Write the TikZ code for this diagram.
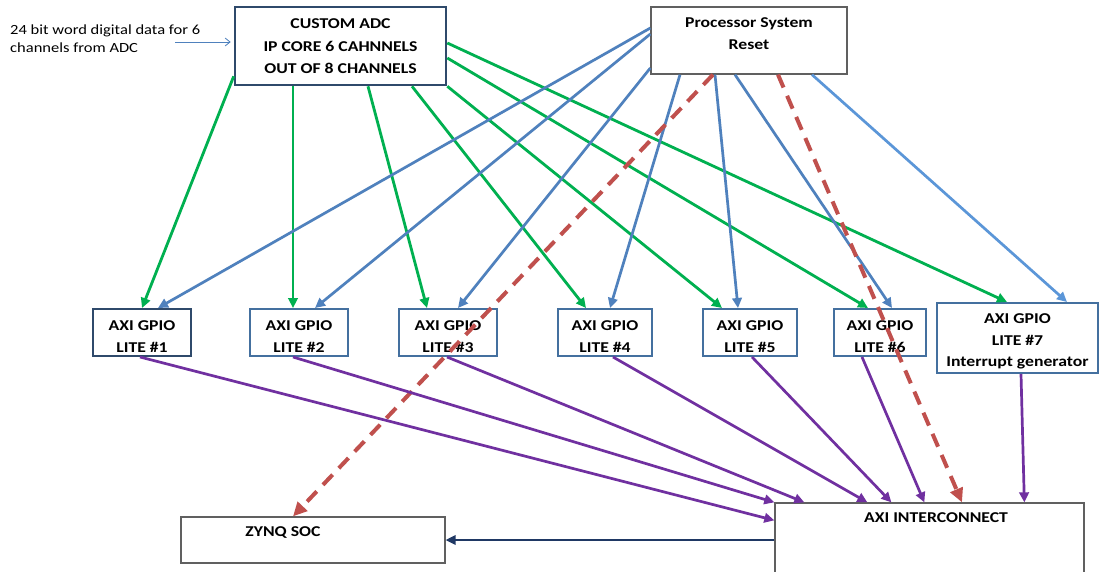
\documentclass[tikz,border=0pt]{standalone}
\usepackage{fontspec}
\setmainfont{Carlito}[FakeStretch=1.18]
\usepackage{xcolor}
\usetikzlibrary{arrows.meta}

\definecolor{adcgreen}{HTML}{00B050}
\definecolor{rstblue}{HTML}{4F81BD}
\definecolor{rstlight}{HTML}{5B96D8}
\definecolor{rstred}{HTML}{C0504D}
\definecolor{buspurple}{HTML}{7030A0}
\definecolor{navyline}{HTML}{1F3864}
\definecolor{boxblue}{HTML}{44709F}
\definecolor{boxdark}{HTML}{2F4A6B}
\definecolor{boxgrey}{HTML}{606060}

\begin{document}
\begin{tikzpicture}[x=1pt, y=-1pt, >={Triangle[length=10pt,width=9.5pt]},
  lbl/.style={font=\fontsize{15}{21.5}\selectfont\bfseries, align=center, inner sep=0pt},
  gpio/.style={draw=boxblue, line width=2pt, fill=white, lbl, minimum height=47pt},
  greybox/.style={draw=boxgrey, line width=1.3pt, fill=white},
  dataline/.style={->, adcgreen, line width=2.8pt},
  rstline/.style={->, rstblue, line width=2.7pt},
  rstdash/.style={-{Triangle[length=14pt,width=13pt]}, rstred, line width=4pt, dash pattern=on 14pt off 9pt},
  busline/.style={->, buspurple, line width=2.7pt}]
\fill[white] (0,0) rectangle (1100,571);
\clip (0,0) rectangle (1100,571);

% ADC core and reset block
\node[draw=boxdark, line width=2.6pt, fill=white, lbl, minimum width=211pt, minimum height=78pt] (adc) at (340.5,46)
  {CUSTOM ADC\\[1pt]IP CORE 6 CAHNNELS\\[0.5pt]OUT OF 8 CHANNELS};
\node[greybox, minimum width=196pt, minimum height=67pt] (psr) at (749,40.5) {};
\node[lbl] (psrtxt) at (749,33.5) {Processor System\\Reset};

% Input note
\node[anchor=west, align=left, inner sep=0pt, font=\fontsize{14}{18}\selectfont] (note) at (10,38.5)
  {24 bit word digital data for 6\\channels from ADC};
\coordinate (src) at (175,42);
\draw[-{Straight Barb[length=5pt,width=8pt]}, rstblue, line width=0.8pt] (src) -- ([xshift=-3pt,yshift=4pt]adc.west);

% GPIO blocks
\foreach \n/\x/\w/\c in {1/142/98/boxdark, 2/299/98/boxblue, 3/448/98/boxblue, 4/605/94/boxblue, 5/750/94/boxblue, 6/880/92/boxblue}
  \node[gpio, draw=\c, minimum width=\w pt] (g\n) at (\x,332.5) {\rule{0pt}{18pt}AXI GPIO\\LITE \#\n};
\node[gpio, minimum width=161pt, minimum height=70pt] (g7) at (1017.5,338) {\rule{0pt}{17pt}AXI GPIO\\LITE \#7\\Interrupt generator};

% SoC and interconnect
\node[greybox, minimum width=264pt, minimum height=46pt] (zynq) at (313,540) {};
\node[lbl] (zynqtxt) at (283,532.5) {ZYNQ SOC};
\node[greybox, minimum width=309pt, minimum height=80pt] (axi) at (929.5,543) {};
\node[lbl] (axitxt) at (936,517.5) {AXI INTERCONNECT};

% Data from ADC
\draw[dataline] ([yshift=10pt]adc.south west) -- (g1.north);
\draw[dataline] ([xshift=-47.5pt]adc.south) -- ([xshift=-6pt]g2.north);
\draw[dataline] ([xshift=27.5pt]adc.south) -- ([xshift=-21pt]g3.north);
\draw[dataline] ([xshift=71.5pt]adc.south) -- ([xshift=-19pt]g4.north);
\draw[dataline] (adc.south east) -- ([xshift=-28pt]g5.north);
\draw[dataline] ([yshift=-12pt]adc.east) -- ([xshift=-12pt]g6.north);
\draw[dataline] ([yshift=3pt]adc.east) -- ([xshift=-10.5pt]g7.north);

% Reset lines
\draw[rstline] ([yshift=12.5pt]psr.west) -- ([xshift=16pt]g1.north);
\draw[rstline] ([yshift=6.5pt]psr.west) -- ([xshift=16pt]g2.north);
\draw[rstline] ([yshift=-27.5pt]psr.west) -- ([xshift=10pt]g3.north);
\draw[rstline] ([xshift=-69pt]psr.south) -- ([xshift=5pt]g4.north);
\draw[rstline] ([xshift=-34pt]psr.south) -- ([xshift=-12pt]g5.north);
\draw[rstline] ([xshift=-14pt]psr.south) -- ([xshift=12pt]g6.north);
\draw[rstline, rstlight] ([xshift=63pt]psr.south) -- ([xshift=49.5pt]g7.north);
\draw[rstdash] ([xshift=-36pt]psr.south) -- ([xshift=-20pt]zynq.north);
\draw[rstdash] ([xshift=29pt]psr.south) -- ([xshift=32.5pt]axi.north);

% GPIO to interconnect
\draw[busline] ([xshift=-2pt]g1.south) -- ([yshift=-18pt]axi.north west);
\draw[busline] ([xshift=-6pt]g2.south) -- (axi.north west);
\draw[busline] ([xshift=-1pt]g3.south) -- ([xshift=30pt]axi.north west);
\draw[busline] ([xshift=8pt]g4.south) -- ([xshift=93pt]axi.north west);
\draw[busline] ([xshift=2pt]g5.south) -- ([xshift=117pt]axi.north west);
\draw[busline] ([xshift=-18pt]g6.south) -- ([xshift=150pt]axi.north west);
\draw[busline] ([xshift=3.5pt]g7.south) -- ([xshift=250pt]axi.north west);

% Interconnect to SoC
\draw[->, navyline, line width=2pt] (axi.west |- zynq.east) -- (zynq.east);
\end{tikzpicture}
\end{document}
